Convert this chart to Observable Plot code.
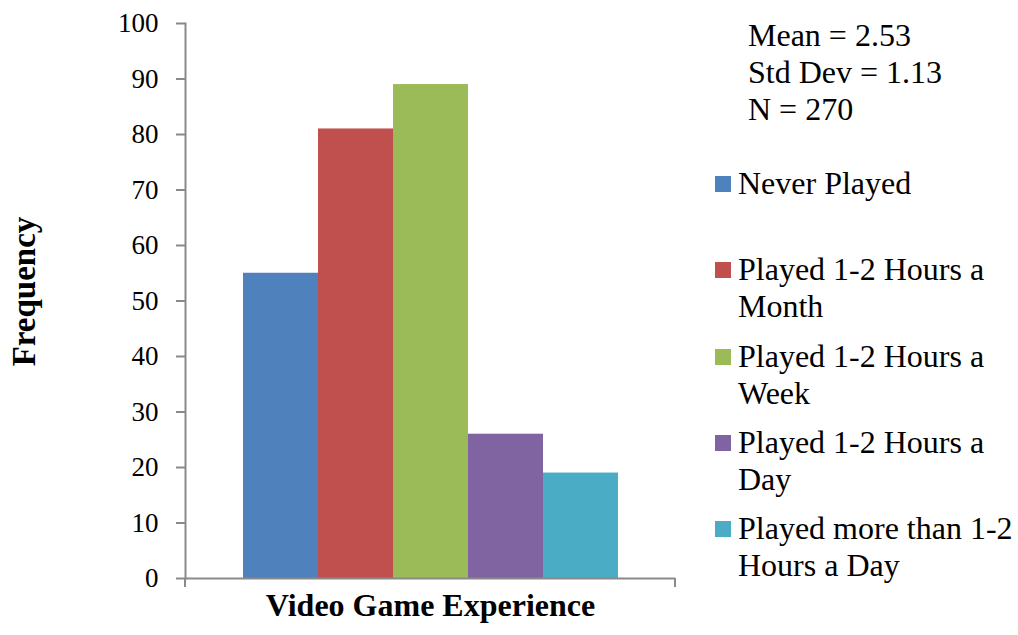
<!DOCTYPE html>
<html>
<head>
<meta charset="utf-8">
<script src="https://cdn.jsdelivr.net/npm/d3@7"></script>
<script src="https://cdn.jsdelivr.net/npm/@observablehq/plot@0.6"></script>
<style>
  html, body { margin: 0; padding: 0; background: #fff; overflow: hidden; }
  #chart { position: relative; width: 1018px; height: 635px; font-family: "Liberation Serif", Tinos, "Times New Roman", Times, "DejaVu Serif", serif; color: #000; }
  #chart svg { position: absolute; left: 0; top: 0; }
  .stats { position: absolute; left: 748px; top: 17px; font-size: 32px; line-height: 37px; }
  .legend { position: absolute; left: 715px; top: 165px; font-size: 32px; line-height: 37px; }
  .item { position: relative; height: 86.25px; padding-left: 23px; width: 290px; }
  .swatch { position: absolute; left: 0; top: 11px; width: 16px; height: 16px; }
</style>
</head>
<body>
<div id="chart"></div>
<script>
// Survey responses: how often respondents play video games
const categories = [
  "Never Played",
  "Played 1-2 Hours a Month",
  "Played 1-2 Hours a Week",
  "Played 1-2 Hours a Day",
  "Played more than 1-2 Hours a Day"
];
const frequencies = [55, 81, 89, 26, 19];
const colors = ["#4F81BD", "#C0504D", "#9BBB59", "#8064A2", "#4BACC6"];
const yTicks = [0, 10, 20, 30, 40, 50, 60, 70, 80, 90, 100];
const stats = ["Mean = 2.53", "Std Dev = 1.13", "N = 270"];
const xTitle = "Video Game Experience";
const yTitle = "Frequency";

const serif = "'Liberation Serif', Tinos, 'Times New Roman', Times, 'DejaVu Serif', serif";
const data = categories.map((category, i) => ({category, frequency: frequencies[i]}));
const axisColor = "#898989";

const plot = Plot.plot({
  width: 1018,
  height: 635,
  marginLeft: 185,
  marginRight: 343,
  marginTop: 23,
  marginBottom: 57,
  style: {fontFamily: serif, fontSize: "27px", color: "#000", background: "transparent"},
  x: {domain: categories, paddingInner: 0, paddingOuter: 0.75, axis: null},
  y: {domain: [0, 100]},
  color: {domain: categories, range: colors},
  marks: [
    Plot.barY(data, {x: "category", y: "frequency", fill: "category", inset: 0}),
    Plot.ruleY([0], {stroke: axisColor, strokeWidth: 2}),
    Plot.axisY({ticks: yTicks, tickSize: 9, tickPadding: 18, stroke: axisColor, strokeWidth: 2, fill: "#000", label: null, fontSize: 27}),
    Plot.frame({anchor: "left", stroke: axisColor, strokeWidth: 2}),
    Plot.text([xTitle], {frameAnchor: "bottom", dy: 37, fontWeight: "bold", fontSize: 32, fill: "#000"}),
    Plot.text([yTitle], {frameAnchor: "left", textAnchor: "middle", rotate: -90, dx: -161, dy: -9.5, fontWeight: "bold", fontSize: 33, fill: "#000"})
  ]
});

// Boundary tick marks at both ends of the category axis
const [xStart, xEnd] = plot.scale("x").range;
const yZero = plot.scale("y").apply(0);
d3.select(plot).append("g")
  .attr("stroke", axisColor)
  .attr("stroke-width", 2)
  .selectAll("line")
  .data([xStart, xEnd])
  .join("line")
  .attr("x1", d => d).attr("x2", d => d)
  .attr("y1", yZero).attr("y2", yZero + 9);

const chart = document.getElementById("chart");
chart.appendChild(plot);

// Summary statistics
const statsDiv = d3.select(chart).append("div").attr("class", "stats");
statsDiv.selectAll("div").data(stats).join("div").text(d => d);

// Legend
const legend = d3.select(chart).append("div").attr("class", "legend");
const items = legend.selectAll(".item").data(categories).join("div").attr("class", "item");
items.append("span").attr("class", "swatch").style("background", (d, i) => colors[i]);
items.append("span").text(d => d);
</script>
</body>
</html>
